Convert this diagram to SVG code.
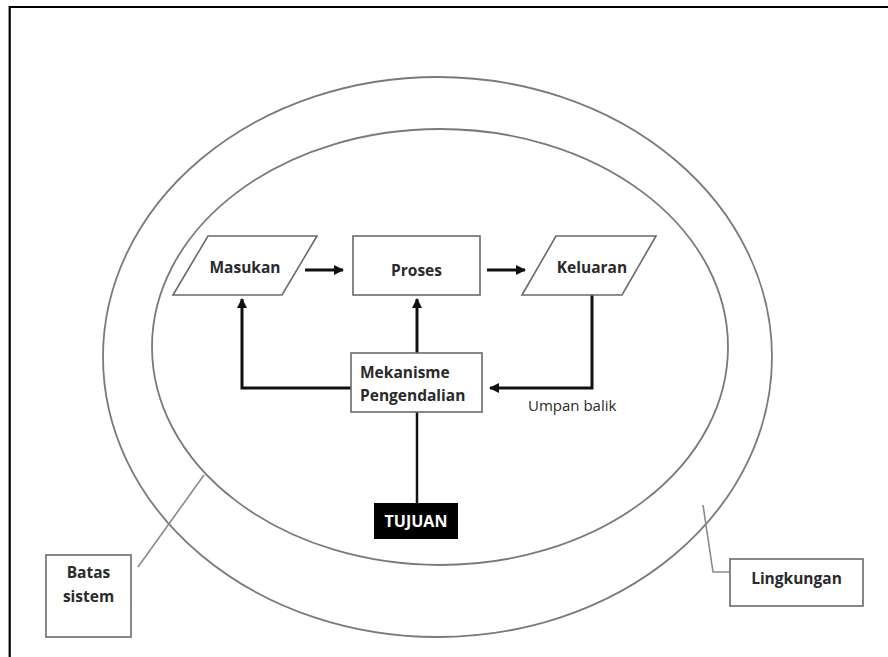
<svg xmlns="http://www.w3.org/2000/svg" width="888" height="657" viewBox="0 0 888 657">
<defs>
<style>
.frame{fill:none;stroke:#000;stroke-width:2.2}
.ell{fill:none;stroke:#7a7a7a;stroke-width:1.8}
.box{fill:#fff;stroke:#6a6a6a;stroke-width:1.6}
.lead{fill:none;stroke:#8a8a8a;stroke-width:1.6}
.conn{fill:none;stroke:#111;stroke-width:3}
.lbl{font-family:"Open Sans","Liberation Sans",sans-serif;font-weight:700;font-size:15.5px;fill:#2a2a2a;text-anchor:middle}
.lbll{font-family:"Open Sans","Liberation Sans",sans-serif;font-weight:700;font-size:15.5px;fill:#2a2a2a}
.plain{font-family:"Open Sans","Liberation Sans",sans-serif;font-size:15px;fill:#2a2a2a}
.wt{font-family:"Open Sans","Liberation Sans",sans-serif;font-weight:700;font-size:16px;fill:#fff;text-anchor:middle}
</style>
<marker id="ah" markerWidth="10" markerHeight="10" refX="9" refY="5" orient="auto" markerUnits="userSpaceOnUse">
<path d="M0,0 L10,5 L0,10 Z" fill="#111"/>
</marker>
</defs>
<rect width="888" height="657" fill="#fff"/>
<path class="frame" d="M9.7,657 V7 H888"/>
<g id="lingkungan-ellipse"><ellipse class="ell" cx="437.5" cy="357" rx="334.5" ry="280"/></g>
<g id="batas-ellipse"><ellipse class="ell" cx="440" cy="347" rx="288" ry="218"/></g>
<g id="connectors">
<path class="conn" d="M305,270 H343" marker-end="url(#ah)"/>
<path class="conn" d="M487,270 H525" marker-end="url(#ah)"/>
<path class="conn" d="M351,388 H242 V299" marker-end="url(#ah)"/>
<path class="conn" d="M417,353 V299" marker-end="url(#ah)"/>
<path class="conn" d="M592,295 V388 H490" marker-end="url(#ah)"/>
<path d="M417,412 V503" fill="none" stroke="#111" stroke-width="2.5"/>
<path class="lead" d="M138,567 L204,475"/>
<path class="lead" d="M730,572 H713 L703,505"/>
</g>
<g id="masukan">
<polygon class="box" points="173,295 208,236 317,236 282,295"/>
<text class="lbl" x="245" y="273">Masukan</text>
</g>
<g id="proses">
<rect class="box" x="353" y="236" width="127" height="59"/>
<text class="lbl" x="416.5" y="276">Proses</text>
</g>
<g id="keluaran">
<polygon class="box" points="522,295 556,236 656,236 622,295"/>
<text class="lbl" x="592" y="273">Keluaran</text>
</g>
<g id="mekanisme">
<rect class="box" x="351" y="353" width="131" height="59"/>
<text class="lbll" x="360" y="378">Mekanisme</text>
<text class="lbll" x="360" y="401">Pengendalian</text>
</g>
<g id="umpan-balik">
<text class="plain" x="528" y="411">Umpan balik</text>
</g>
<g id="tujuan">
<rect x="374" y="503" width="84" height="36" fill="#000"/>
<text class="wt" x="416" y="527">TUJUAN</text>
</g>
<g id="batas-sistem">
<rect class="box" x="46" y="555" width="85" height="82"/>
<text class="lbl" x="88.5" y="578">Batas</text>
<text class="lbl" x="88.5" y="602">sistem</text>
</g>
<g id="lingkungan">
<rect class="box" x="730" y="559" width="133" height="47"/>
<text class="lbl" x="796.5" y="584">Lingkungan</text>
</g>
</svg>
